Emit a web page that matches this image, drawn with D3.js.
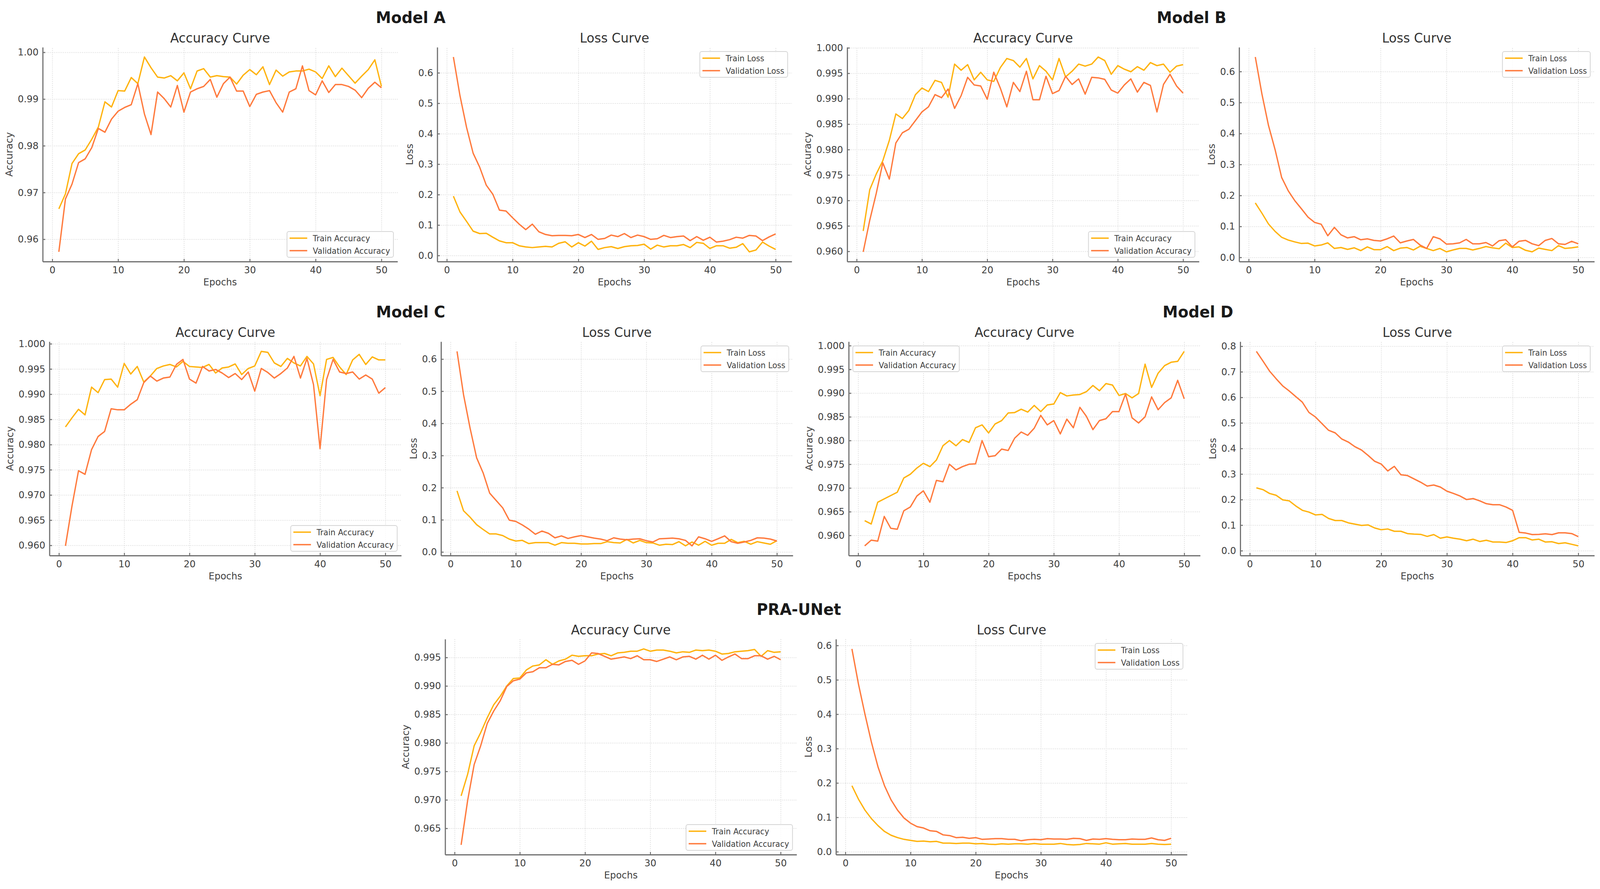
<!DOCTYPE html>
<html><head><meta charset="utf-8">
<script src="https://cdn.jsdelivr.net/npm/d3@7/dist/d3.min.js"></script>
<style>
html,body{margin:0;padding:0;background:#fff;overflow:hidden;width:100%;height:100%;}
svg{display:block;width:100vw;height:100vh;}
text{font-family:"DejaVu Sans","Noto Sans",sans-serif;}
</style>
</head><body>
<svg id="chart" viewBox="0 0 4270 2277" preserveAspectRatio="none"></svg>
<script>
// ---------------- DATA ----------------
const epochs = [1,2,3,4,5,6,7,8,9,10,11,12,13,14,15,16,17,18,19,20,21,22,23,24,25,26,27,28,29,30,31,32,33,34,35,36,37,38,39,40,41,42,43,44,45,46,47,48,49,50];
const epochTicks = [0,10,20,30,40,50];

const modelA_trainAcc = [0.9665,0.9697,0.9762,0.9783,0.9791,0.9814,0.9840,0.9894,0.9883,0.9918, 0.9917,0.9946,0.9933,0.9990,0.9967,0.9947,0.9945,0.9950,0.9939,0.9956, 0.9922,0.9960,0.9965,0.9947,0.9950,0.9948,0.9947,0.9932,0.9951,0.9963, 0.9952,0.9969,0.9931,0.9962,0.9949,0.9958,0.9960,0.9960,0.9964,0.9958, 0.9944,0.9971,0.9948,0.9966,0.9950,0.9934,0.9949,0.9963,0.9984,0.9927];
const modelA_valAcc = [0.9573,0.9686,0.9718,0.9764,0.9772,0.9796,0.9837,0.9829,0.9857,0.9874, 0.9882,0.9888,0.9933,0.9868,0.9824,0.9915,0.9901,0.9883,0.9929,0.9872, 0.9915,0.9922,0.9927,0.9942,0.9904,0.9933,0.9947,0.9917,0.9917,0.9884, 0.9910,0.9915,0.9918,0.9892,0.9872,0.9915,0.9922,0.9971,0.9918,0.9909, 0.9939,0.9914,0.9931,0.9931,0.9927,0.9919,0.9903,0.9923,0.9936,0.9924];
const modelA_trainLoss = [0.195,0.143,0.112,0.080,0.072,0.073,0.060,0.048,0.042,0.042, 0.032,0.028,0.026,0.028,0.030,0.028,0.040,0.045,0.028,0.042, 0.031,0.047,0.020,0.026,0.029,0.023,0.029,0.032,0.033,0.037, 0.021,0.034,0.028,0.032,0.032,0.036,0.026,0.043,0.040,0.023, 0.032,0.032,0.024,0.027,0.039,0.012,0.018,0.044,0.031,0.020];
const modelA_valLoss = [0.652,0.525,0.421,0.336,0.290,0.231,0.201,0.149,0.146,0.124, 0.103,0.085,0.103,0.078,0.069,0.065,0.066,0.066,0.065,0.069, 0.059,0.069,0.053,0.056,0.067,0.062,0.072,0.059,0.067,0.062, 0.053,0.055,0.066,0.059,0.062,0.064,0.049,0.062,0.050,0.060, 0.044,0.047,0.052,0.060,0.057,0.066,0.064,0.049,0.061,0.071];

const modelB_trainAcc = [0.9640,0.9721,0.9752,0.9778,0.9818,0.9870,0.9861,0.9877,0.9908,0.9921, 0.9914,0.9936,0.9932,0.9903,0.9968,0.9956,0.9967,0.9937,0.9952,0.9937, 0.9934,0.9961,0.9979,0.9975,0.9962,0.9979,0.9939,0.9965,0.9954,0.9937, 0.9979,0.9943,0.9954,0.9968,0.9964,0.9968,0.9982,0.9975,0.9948,0.9965, 0.9958,0.9953,0.9963,0.9956,0.9971,0.9965,0.9968,0.9952,0.9964,0.9967];
const modelB_valAcc = [0.9599,0.9661,0.9714,0.9774,0.9742,0.9813,0.9833,0.9840,0.9857,0.9874, 0.9884,0.9908,0.9902,0.9919,0.9881,0.9906,0.9942,0.9927,0.9925,0.9899, 0.9952,0.9921,0.9884,0.9932,0.9914,0.9954,0.9898,0.9898,0.9944,0.9910, 0.9916,0.9944,0.9928,0.9939,0.9909,0.9942,0.9941,0.9938,0.9917,0.9911, 0.9927,0.9939,0.9913,0.9932,0.9926,0.9874,0.9928,0.9948,0.9925,0.9911];
const modelB_trainLoss = [0.176,0.143,0.108,0.084,0.065,0.056,0.050,0.045,0.046,0.037, 0.040,0.047,0.029,0.032,0.026,0.031,0.022,0.034,0.025,0.025, 0.035,0.022,0.030,0.032,0.024,0.036,0.029,0.022,0.029,0.018, 0.024,0.029,0.029,0.024,0.029,0.035,0.031,0.028,0.046,0.032, 0.034,0.023,0.018,0.030,0.026,0.022,0.038,0.029,0.031,0.034];
const modelB_valLoss = [0.647,0.528,0.426,0.348,0.258,0.215,0.183,0.157,0.130,0.113, 0.107,0.070,0.097,0.073,0.063,0.067,0.057,0.060,0.055,0.053, 0.060,0.069,0.047,0.053,0.058,0.040,0.029,0.067,0.060,0.043, 0.044,0.047,0.058,0.044,0.044,0.048,0.037,0.054,0.057,0.034, 0.052,0.055,0.044,0.038,0.055,0.061,0.044,0.042,0.052,0.044];

const modelC_trainAcc = [0.9835,0.9853,0.9870,0.9859,0.9914,0.9903,0.9929,0.9930,0.9914,0.9961, 0.9940,0.9955,0.9924,0.9936,0.9951,0.9956,0.9959,0.9954,0.9965,0.9955, 0.9954,0.9953,0.9959,0.9942,0.9952,0.9954,0.9960,0.9939,0.9951,0.9956, 0.9985,0.9983,0.9962,0.9955,0.9971,0.9962,0.9956,0.9975,0.9960,0.9897, 0.9969,0.9973,0.9954,0.9939,0.9968,0.9979,0.9959,0.9974,0.9968,0.9968];
const modelC_valAcc = [0.9599,0.9678,0.9748,0.9741,0.9790,0.9816,0.9826,0.9871,0.9869,0.9869, 0.9880,0.9889,0.9923,0.9936,0.9926,0.9932,0.9934,0.9959,0.9969,0.9930, 0.9922,0.9955,0.9946,0.9949,0.9942,0.9933,0.9941,0.9929,0.9944,0.9906, 0.9951,0.9943,0.9932,0.9941,0.9952,0.9975,0.9932,0.9971,0.9919,0.9792, 0.9929,0.9969,0.9944,0.9941,0.9944,0.9930,0.9938,0.9930,0.9902,0.9913];
const modelC_trainLoss = [0.190,0.128,0.108,0.085,0.070,0.056,0.056,0.051,0.040,0.034, 0.036,0.026,0.029,0.029,0.029,0.021,0.029,0.027,0.027,0.025, 0.025,0.026,0.026,0.032,0.029,0.028,0.039,0.028,0.036,0.029, 0.028,0.021,0.024,0.023,0.032,0.019,0.031,0.021,0.033,0.021, 0.027,0.027,0.039,0.029,0.033,0.024,0.032,0.028,0.024,0.035];
const modelC_valLoss = [0.624,0.489,0.385,0.293,0.246,0.183,0.160,0.137,0.099,0.095, 0.084,0.071,0.055,0.065,0.058,0.044,0.050,0.042,0.047,0.051, 0.047,0.043,0.040,0.035,0.044,0.040,0.038,0.040,0.041,0.035, 0.031,0.041,0.042,0.043,0.041,0.036,0.019,0.047,0.041,0.033, 0.041,0.050,0.032,0.027,0.031,0.036,0.044,0.043,0.040,0.034];

const modelD_trainAcc = [0.9631,0.9624,0.9670,0.9677,0.9684,0.9691,0.9721,0.9729,0.9742,0.9752, 0.9745,0.9759,0.9789,0.9800,0.9789,0.9802,0.9796,0.9827,0.9833,0.9816, 0.9835,0.9842,0.9858,0.9859,0.9866,0.9860,0.9874,0.9861,0.9875,0.9877, 0.9901,0.9894,0.9896,0.9897,0.9903,0.9916,0.9905,0.9920,0.9917,0.9895, 0.9899,0.9890,0.9899,0.9961,0.9912,0.9942,0.9958,0.9965,0.9967,0.9988];
const modelD_valAcc = [0.9578,0.9590,0.9588,0.9640,0.9615,0.9613,0.9652,0.9660,0.9683,0.9694, 0.9670,0.9716,0.9713,0.9750,0.9738,0.9745,0.9750,0.9751,0.9800,0.9766, 0.9768,0.9782,0.9779,0.9805,0.9818,0.9811,0.9826,0.9853,0.9833,0.9842, 0.9814,0.9845,0.9827,0.9870,0.9851,0.9823,0.9842,0.9846,0.9861,0.9861, 0.9898,0.9848,0.9837,0.9850,0.9892,0.9865,0.9880,0.9890,0.9927,0.9888];
const modelD_trainLoss = [0.246,0.239,0.224,0.217,0.199,0.195,0.175,0.158,0.151,0.140, 0.142,0.126,0.118,0.118,0.109,0.104,0.099,0.101,0.089,0.082, 0.085,0.076,0.076,0.067,0.065,0.064,0.056,0.063,0.049,0.054, 0.049,0.045,0.039,0.045,0.036,0.041,0.034,0.034,0.032,0.039, 0.051,0.051,0.042,0.045,0.034,0.035,0.028,0.031,0.025,0.019];
const modelD_valLoss = [0.780,0.742,0.703,0.673,0.645,0.625,0.603,0.581,0.541,0.523, 0.497,0.471,0.461,0.437,0.425,0.407,0.394,0.373,0.350,0.339, 0.312,0.330,0.297,0.294,0.281,0.268,0.253,0.257,0.249,0.233, 0.224,0.214,0.200,0.204,0.195,0.184,0.180,0.180,0.171,0.158, 0.072,0.069,0.063,0.064,0.066,0.063,0.070,0.070,0.067,0.055];

const pra_trainAcc = [0.9707,0.9745,0.9795,0.9818,0.9844,0.9867,0.9882,0.9900,0.9913,0.9914, 0.9928,0.9935,0.9937,0.9946,0.9938,0.9944,0.9947,0.9954,0.9952,0.9953, 0.9953,0.9956,0.9957,0.9953,0.9958,0.9959,0.9961,0.9961,0.9965,0.9961, 0.9963,0.9963,0.9961,0.9958,0.9960,0.9959,0.9963,0.9962,0.9963,0.9961, 0.9956,0.9957,0.9960,0.9961,0.9962,0.9964,0.9952,0.9962,0.9959,0.9960];
const pra_valAcc = [0.9621,0.9699,0.9762,0.9795,0.9834,0.9856,0.9874,0.9899,0.9909,0.9912, 0.9923,0.9925,0.9932,0.9932,0.9938,0.9937,0.9943,0.9945,0.9938,0.9944, 0.9958,0.9957,0.9952,0.9947,0.9949,0.9951,0.9948,0.9953,0.9946,0.9946, 0.9943,0.9947,0.9951,0.9946,0.9951,0.9952,0.9947,0.9954,0.9947,0.9954, 0.9945,0.9951,0.9956,0.9948,0.9948,0.9953,0.9953,0.9947,0.9952,0.9946];
const pra_trainLoss = [0.192,0.153,0.121,0.096,0.076,0.059,0.048,0.041,0.036,0.033, 0.030,0.031,0.029,0.030,0.025,0.025,0.024,0.025,0.025,0.023, 0.024,0.022,0.021,0.023,0.022,0.023,0.023,0.022,0.024,0.022, 0.022,0.022,0.024,0.021,0.020,0.021,0.024,0.023,0.022,0.026, 0.022,0.023,0.024,0.022,0.022,0.022,0.024,0.022,0.021,0.022];
const pra_valLoss = [0.590,0.488,0.400,0.318,0.247,0.192,0.151,0.121,0.098,0.083, 0.073,0.069,0.061,0.059,0.049,0.047,0.041,0.042,0.039,0.041, 0.036,0.037,0.038,0.038,0.036,0.036,0.032,0.035,0.036,0.035, 0.038,0.037,0.037,0.036,0.039,0.038,0.033,0.037,0.036,0.038, 0.036,0.035,0.035,0.037,0.036,0.036,0.040,0.035,0.033,0.039];

// tick labels
const accTicks2 = [0.96,0.97,0.98,0.99,1.00];
const accTicks3 = [0.960,0.965,0.970,0.975,0.980,0.985,0.990,0.995,1.000];
const accTicksPRA = [0.965,0.970,0.975,0.980,0.985,0.990,0.995];
const lossTicks6 = [0.0,0.1,0.2,0.3,0.4,0.5,0.6];
const lossTicks8 = [0.0,0.1,0.2,0.3,0.4,0.5,0.6,0.7,0.8];

const modelTitles = ["Model A","Model B","Model C","Model D","PRA-UNet"];
const accLegend = ["Train Accuracy","Validation Accuracy"];
const lossLegend = ["Train Loss","Validation Loss"];

// ---------------- LAYOUT ----------------
const TRAIN_COLOR = "#FFB30F";
const VAL_COLOR = "#FF7A3D";
const TEXT = "#404040";
const SPINE = "#6e6e6e";

const rows = [{y0:121,y1:670},{y0:875,y1:1423},{y0:1637,y1:2189}];
const panels = [
  {row:0,x0:114, x1:1061, title:"Accuracy Curve",ylab:"Accuracy",train:modelA_trainAcc,val:modelA_valAcc,ticks:accTicks2,fmt:".2f",leg:accLegend,legPos:"lr"},
  {row:0,x0:1167,x1:2113, title:"Loss Curve",ylab:"Loss",train:modelA_trainLoss,val:modelA_valLoss,ticks:lossTicks6,fmt:".1f",leg:lossLegend,legPos:"ur"},
  {row:0,x0:2261,x1:3200, title:"Accuracy Curve",ylab:"Accuracy",train:modelB_trainAcc,val:modelB_valAcc,ticks:accTicks3,fmt:".3f",leg:accLegend,legPos:"lr"},
  {row:0,x0:3307,x1:4255, title:"Loss Curve",ylab:"Loss",train:modelB_trainLoss,val:modelB_valLoss,ticks:lossTicks6,fmt:".1f",leg:lossLegend,legPos:"ur"},
  {row:1,x0:132, x1:1071, title:"Accuracy Curve",ylab:"Accuracy",train:modelC_trainAcc,val:modelC_valAcc,ticks:accTicks3,fmt:".3f",leg:accLegend,legPos:"lr"},
  {row:1,x0:1177,x1:2116, title:"Loss Curve",ylab:"Loss",train:modelC_trainLoss,val:modelC_valLoss,ticks:lossTicks6,fmt:".1f",leg:lossLegend,legPos:"ur"},
  {row:1,x0:2265,x1:3203, title:"Accuracy Curve",ylab:"Accuracy",train:modelD_trainAcc,val:modelD_valAcc,ticks:accTicks3,fmt:".3f",leg:accLegend,legPos:"ul"},
  {row:1,x0:3310,x1:4255, title:"Loss Curve",ylab:"Loss",train:modelD_trainLoss,val:modelD_valLoss,ticks:lossTicks8,fmt:".1f",leg:lossLegend,legPos:"ur"},
  {row:2,x0:1188,x1:2126, title:"Accuracy Curve",ylab:"Accuracy",train:pra_trainAcc,val:pra_valAcc,ticks:accTicksPRA,fmt:".3f",leg:accLegend,legPos:"lr"},
  {row:2,x0:2231,x1:3168, title:"Loss Curve",ylab:"Loss",train:pra_trainLoss,val:pra_valLoss,ticks:lossTicks6,fmt:".1f",leg:lossLegend,legPos:"ur"}
];
const titlePos = [{cx:1096,row:0},{cx:3180,row:0},{cx:1096,row:1},{cx:3197,row:1},{cx:2132,row:2}];

// ---------------- DRAW ----------------
const svg = d3.select("#chart");
svg.append("rect").attr("width",4270).attr("height",2277).attr("fill","#ffffff");

function padded(ext){ const p=(ext[1]-ext[0])*0.05; return [ext[0]-p, ext[1]+p]; }

panels.forEach(p => {
  const {y0,y1} = rows[p.row];
  const g = svg.append("g");
  const x = d3.scaleLinear().domain(padded(d3.extent(epochs))).range([p.x0,p.x1]);
  const y = d3.scaleLinear().domain(padded(d3.extent(p.train.concat(p.val)))).range([y1,y0]);

  // grid
  const gx = g.append("g").attr("transform",`translate(0,${y1})`)
    .call(d3.axisBottom(x).tickValues(epochTicks).tickSize(-(y1-y0)).tickFormat(""));
  const gy = g.append("g").attr("transform",`translate(${p.x0},0)`)
    .call(d3.axisLeft(y).tickValues(p.ticks).tickSize(-(p.x1-p.x0)).tickFormat(""));
  [gx,gy].forEach(a=>{
    a.select(".domain").remove();
    a.selectAll("line").attr("stroke","#d9d9d9").attr("stroke-width",2).attr("stroke-dasharray","2,3");
  });

  // lines
  const line = d3.line().x((d,i)=>x(epochs[i])).y(d=>y(d));
  g.append("path").datum(p.train).attr("d",line).attr("fill","none")
    .attr("stroke",TRAIN_COLOR).attr("stroke-width",3.5).attr("stroke-linejoin","round");
  g.append("path").datum(p.val).attr("d",line).attr("fill","none")
    .attr("stroke",VAL_COLOR).attr("stroke-width",3.5).attr("stroke-linejoin","round");

  // axes (ticks point inward)
  const ax = g.append("g").attr("transform",`translate(0,${y1})`)
    .call(d3.axisBottom(x).tickValues(epochTicks).tickSizeInner(-7).tickSizeOuter(0).tickPadding(12).tickFormat(d3.format("d")));
  const ay = g.append("g").attr("transform",`translate(${p.x0},0)`)
    .call(d3.axisLeft(y).tickValues(p.ticks).tickSizeInner(-7).tickSizeOuter(0).tickPadding(11).tickFormat(d3.format(p.fmt)));
  [ax,ay].forEach(a=>{
    a.select(".domain").attr("stroke",SPINE).attr("stroke-width",3);
    a.selectAll(".tick line").attr("stroke",SPINE).attr("stroke-width",2.5);
    a.selectAll("text").attr("font-size",25).attr("fill",TEXT).attr("font-family","DejaVu Sans");
  });
  let maxW = 0;
  ay.selectAll("text").each(function(){ maxW = Math.max(maxW, this.getComputedTextLength()); });

  // title
  g.append("text").attr("x",(p.x0+p.x1)/2).attr("y",y0-12).attr("text-anchor","middle")
    .attr("font-size",34).attr("fill","#333").text(p.title);
  // x label
  g.append("text").attr("x",(p.x0+p.x1)/2).attr("y",y1+61).attr("text-anchor","middle")
    .attr("font-size",25).attr("fill",TEXT).text("Epochs");
  // y label
  const lx = p.x0 - 11 - maxW - 14;
  g.append("text").attr("transform",`translate(${lx},${(y0+y1)/2}) rotate(-90)`).attr("text-anchor","middle")
    .attr("font-size",25).attr("fill",TEXT).text(p.ylab);

  // legend
  const lg = g.append("g");
  const box = lg.append("rect").attr("rx",5).attr("ry",5).attr("fill","#ffffff").attr("fill-opacity",0.85)
    .attr("stroke","#d4d4d4").attr("stroke-width",2);
  const cols = [TRAIN_COLOR, VAL_COLOR];
  let tw = 0;
  p.leg.forEach((lab,i)=>{
    const cy = 17 + i*32;
    lg.append("line").attr("x1",7).attr("x2",54).attr("y1",cy).attr("y2",cy)
      .attr("stroke",cols[i]).attr("stroke-width",3.5);
    const t = lg.append("text").attr("x",69).attr("y",cy).attr("dy","0.36em")
      .attr("font-size",21).attr("fill",TEXT).text(lab);
    tw = Math.max(tw, t.node().getComputedTextLength());
  });
  const bw = 69 + tw + 9, bh = 66;
  box.attr("width",bw).attr("height",bh);
  let lxp, lyp;
  if (p.legPos==="ur"){ lxp = p.x1-11-bw; lyp = y0+11; }
  else if (p.legPos==="lr"){ lxp = p.x1-11-bw; lyp = y1-11-bh; }
  else { lxp = p.x0+11; lyp = y0+11; }
  lg.attr("transform",`translate(${lxp},${lyp})`);
});

titlePos.forEach((t,i)=>{
  svg.append("text").attr("x",t.cx).attr("y",rows[t.row].y0-62).attr("text-anchor","middle")
    .attr("font-size",41).attr("font-weight","bold").attr("fill","#1a1a1a").text(modelTitles[i]);
});
</script>
</body></html>
